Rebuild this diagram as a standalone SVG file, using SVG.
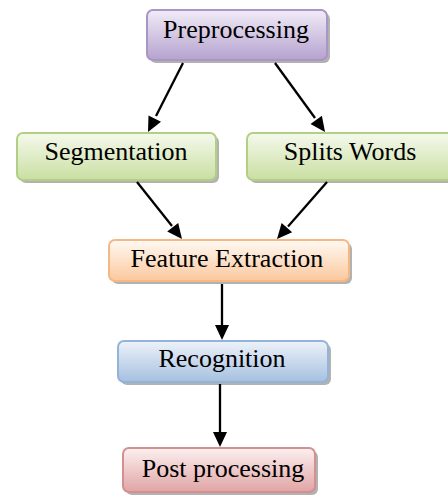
<svg xmlns="http://www.w3.org/2000/svg" width="448" height="498" viewBox="0 0 448 498">
  <style>
    .shadow { fill: #000; opacity: 0.3; }
    .edge { stroke: #000; stroke-width: 2.3; fill: none; }
    .head { fill: #000; stroke: none; }
  </style>
  <defs>
    <linearGradient id="gPurple" x1="0" y1="0" x2="0" y2="1">
      <stop offset="0" stop-color="#f1ecf7"/>
      <stop offset="1" stop-color="#b5a2cf"/>
    </linearGradient>
    <linearGradient id="gGreen" x1="0" y1="0" x2="0" y2="1">
      <stop offset="0" stop-color="#f5f9ec"/>
      <stop offset="1" stop-color="#c9dfa2"/>
    </linearGradient>
    <linearGradient id="gOrange" x1="0" y1="0" x2="0" y2="1">
      <stop offset="0" stop-color="#fff9f3"/>
      <stop offset="1" stop-color="#fbc89d"/>
    </linearGradient>
    <linearGradient id="gBlue" x1="0" y1="0" x2="0" y2="1">
      <stop offset="0" stop-color="#edf2f9"/>
      <stop offset="1" stop-color="#a5c0e0"/>
    </linearGradient>
    <linearGradient id="gRed" x1="0" y1="0" x2="0" y2="1">
      <stop offset="0" stop-color="#fcf0f0"/>
      <stop offset="1" stop-color="#e1a4a4"/>
    </linearGradient>
  </defs>

  <!-- connectors: shafts plus filled triangular heads -->
  <g id="connectors">
    <line class="edge" x1="183" y1="63" x2="156" y2="116"/>
    <polygon class="head" points="148,132 161,121.8 148.5,115.5"/>
    <line class="edge" x1="275" y1="63" x2="315" y2="118"/>
    <polygon class="head" points="325,132 321.9,115.7 310.5,124"/>
    <line class="edge" x1="137" y1="182" x2="172" y2="226"/>
    <polygon class="head" points="182,239 178.2,222.9 167.2,231.6"/>
    <line class="edge" x1="327" y1="182" x2="288" y2="226.5"/>
    <polygon class="head" points="277,239 292.2,232.3 281.6,223.1"/>
    <line class="edge" x1="222" y1="284" x2="222" y2="326"/>
    <polygon class="head" points="222,340 229,325 215,325"/>
    <line class="edge" x1="220" y1="384" x2="220" y2="433"/>
    <polygon class="head" points="220,447 227,432 213,432"/>
  </g>

  <g font-family="'Liberation Serif', 'Times New Roman', serif" font-size="26" fill="#000" text-anchor="middle">
    <g id="preprocessing">
      <rect class="shadow" x="150" y="13" width="180" height="50" rx="6"/>
      <rect x="147" y="10" width="180" height="50" rx="6" fill="url(#gPurple)" stroke="#a995c6" stroke-width="2"/>
      <text x="236" y="38">Preprocessing</text>
    </g>

    <g id="segmentation">
      <rect class="shadow" x="20" y="136" width="199" height="47" rx="6"/>
      <rect x="17" y="133" width="199" height="47" rx="6" fill="url(#gGreen)" stroke="#b3cf86" stroke-width="2"/>
      <text x="116" y="160">Segmentation</text>
    </g>

    <g id="splits-words">
      <rect class="shadow" x="250" y="136" width="206" height="47" rx="6"/>
      <rect x="247" y="133" width="206" height="47" rx="6" fill="url(#gGreen)" stroke="#b3cf86" stroke-width="2"/>
      <text x="350" y="160">Splits Words</text>
    </g>

    <g id="feature-extraction">
      <rect class="shadow" x="112" y="243" width="240" height="41" rx="6"/>
      <rect x="109" y="240" width="240" height="41" rx="6" fill="url(#gOrange)" stroke="#f6b783" stroke-width="2"/>
      <text x="227" y="267">Feature Extraction</text>
    </g>

    <g id="recognition">
      <rect class="shadow" x="121" y="344" width="210" height="41" rx="6"/>
      <rect x="118" y="341" width="210" height="41" rx="6" fill="url(#gBlue)" stroke="#92b3da" stroke-width="2"/>
      <text x="222" y="367">Recognition</text>
    </g>

    <g id="post-processing">
      <rect class="shadow" x="126" y="451" width="192" height="44" rx="6"/>
      <rect x="123" y="448" width="192" height="44" rx="6" fill="url(#gRed)" stroke="#d49090" stroke-width="2"/>
      <text x="223" y="477">Post processing</text>
    </g>
  </g>
</svg>
